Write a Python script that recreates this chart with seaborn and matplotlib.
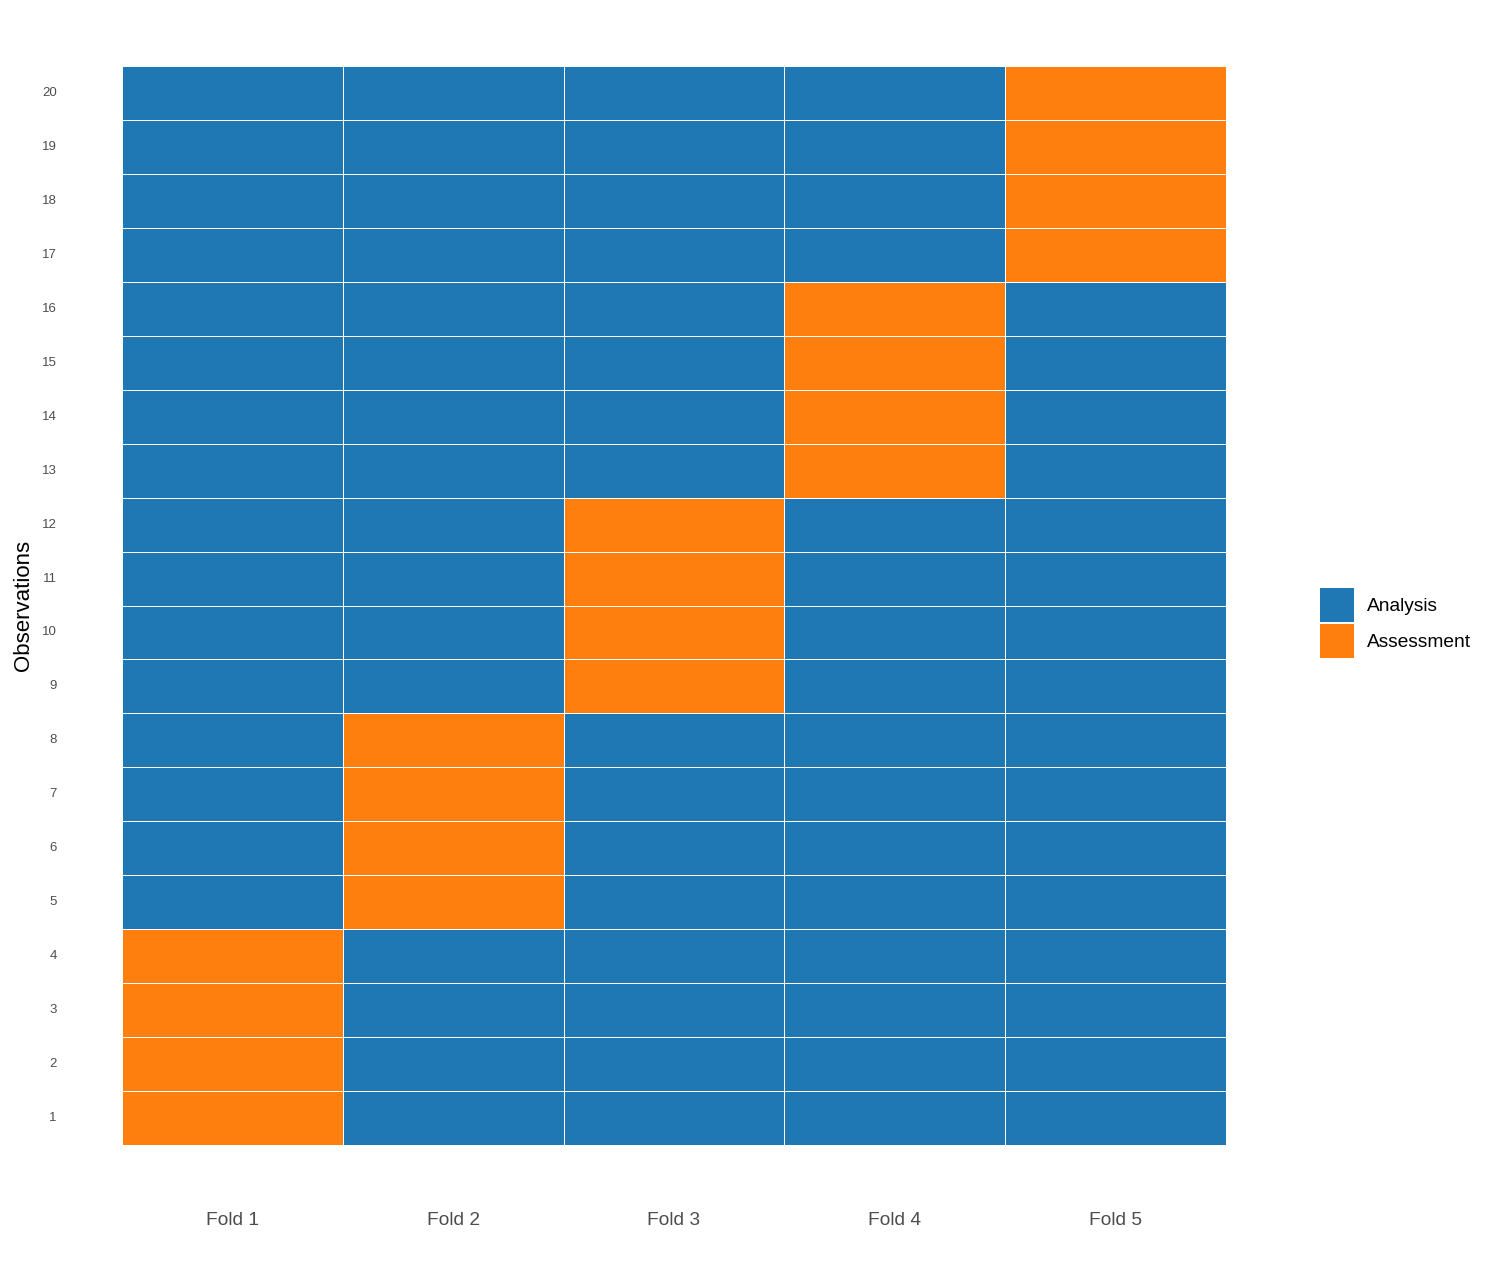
import numpy as np
import pandas as pd
import matplotlib
matplotlib.use("Agg")
import matplotlib.pyplot as plt
import seaborn as sns
from matplotlib.colors import ListedColormap
from matplotlib.patches import Patch

folds = ["Fold 1", "Fold 2", "Fold 3", "Fold 4", "Fold 5"]
observations = list(range(1, 21))
assessment_fold = [1, 1, 1, 1, 2, 2, 2, 2, 3, 3, 3, 3, 4, 4, 4, 4, 5, 5, 5, 5]
roles = ["Analysis", "Assessment"]
role_colors = ["#1f77b4", "#ff7f0e"]

sns.set_theme(style="white")
plt.rcParams["font.family"] = ["Liberation Sans", "DejaVu Sans"]

mat = np.array([[1 if assessment_fold[i] == f + 1 else 0 for f in range(len(folds))]
                for i in range(len(observations))])
df = pd.DataFrame(mat, index=observations, columns=folds).iloc[::-1]

fig = plt.figure(figsize=(14.98, 12.70), dpi=100)
ax = fig.add_axes([122/1498, 1 - 1145/1270, (1226-122)/1498, (1145-66)/1270])
sns.heatmap(df, ax=ax, cmap=ListedColormap(role_colors), vmin=0, vmax=1,
            cbar=False, linewidths=0.6, linecolor="white")
ax.tick_params(axis="x", length=0, pad=48, labelsize=13.8, labelcolor="#4d4d4d")
ax.tick_params(axis="y", length=0, pad=47, labelsize=9.5, labelcolor="#4d4d4d")
plt.setp(ax.get_yticklabels(), rotation=0)
ax.set_xlabel("")
ax.set_ylabel("Observations", fontsize=16, color="black", labelpad=6)
for s in ax.spines.values():
    s.set_visible(False)

handles = [Patch(facecolor=c, edgecolor="none", label=r) for r, c in zip(roles, role_colors)]
fig.legend(handles=handles, loc="center left", bbox_to_anchor=(1312/1498, 1 - 623/1270),
           frameon=False, fontsize=13.8, handlelength=1.8, handleheight=2.3,
           labelspacing=0.15, handletextpad=0.68, borderaxespad=0, labelcolor="black")

fig.savefig("out.png", dpi=100)
